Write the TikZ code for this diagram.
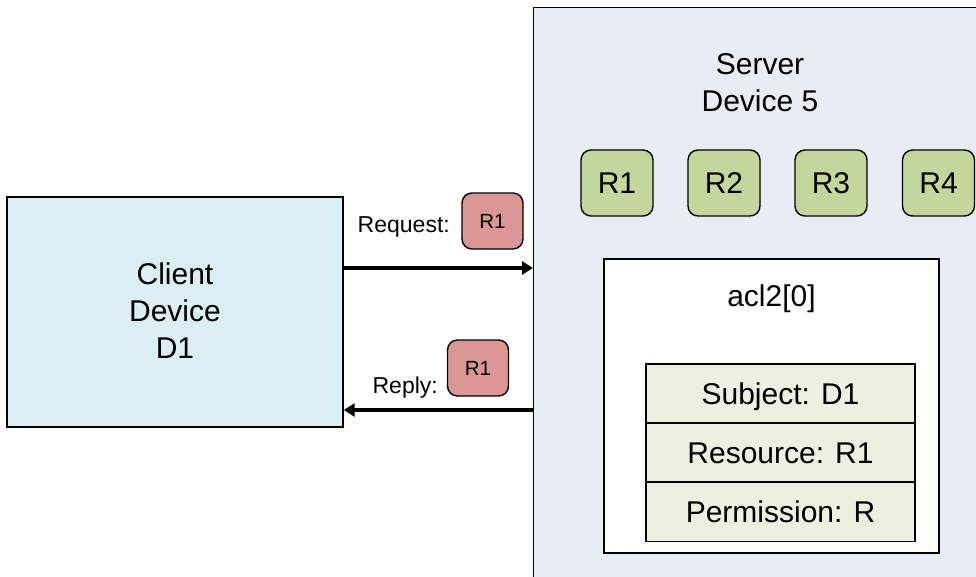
\documentclass[tikz,border=0pt]{standalone}
\usepackage{fontspec}
\setmainfont{Liberation Sans}
\usetikzlibrary{arrows.meta}
\definecolor{clientfill}{HTML}{DBEEF4}
\definecolor{serverfill}{HTML}{E8ECF5}
\definecolor{resfill}{HTML}{C3D69B}
\definecolor{rowfill}{HTML}{EBF1DE}
\definecolor{msgfill}{HTML}{D99694}
\tikzset{
  box/.style={draw=black, line width=1.4pt, inner sep=0pt},
  bigtxt/.style={font=\fontsize{30}{37}\selectfont},
  captext/.style={text height=21.5pt, text depth=0pt},
  resbox/.style={box, fill=resfill, rounded corners=10pt, minimum width=72pt, minimum height=66pt, bigtxt, captext},
  rowbox/.style={box, fill=rowfill, minimum width=269pt, minimum height=59pt, bigtxt, captext},
  msgbox/.style={box, fill=msgfill, rounded corners=10pt, minimum width=61pt, minimum height=56pt, font=\fontsize{20.5}{24}\selectfont, text height=14.7pt, text depth=0pt},
  lbl/.style={inner sep=0pt, font=\fontsize{23}{27}\selectfont},
  arr/.style={line width=3.2pt, -{Triangle[length=11pt,width=13pt]}}
}
\begin{document}
\begin{tikzpicture}[x=1pt,y=-1pt]
\useasboundingbox (0,0) rectangle (976,576);
\clip (0,0) rectangle (976,576);
% server
\node[box, fill=serverfill, anchor=north west, minimum width=470pt, minimum height=600pt] (server) at (533,7) {};
\node[bigtxt, align=center, inner sep=0pt] (servertitle) at (760,82.5) {Server\\Device 5};
% client
\node[box, fill=clientfill, minimum width=336pt, minimum height=230pt] (client) at (175,312) {};
\node[bigtxt, align=center, inner sep=0pt] (clienttitle) at (175,310.5) {Client\\Device\\D1};
% resources
\node[resbox] (r1) at (617,183) {R1};
\node[resbox] (r2) at (724,183) {R2};
\node[resbox] (r3) at (831,183) {R3};
\node[resbox] (r4) at (938.5,183) {R4};
% acl
\node[box, fill=white, minimum width=335pt, minimum height=294pt] (acl) at (771.5,406) {};
\node[bigtxt, captext, inner sep=0pt] (acltitle) at (771.5,295.5) {acl2[0]};
\node[rowbox] (subj) at (780.5,393.5) {Subject: D1};
\node[rowbox] (resrc) at (780.5,452.5) {Resource: R1};
\node[rowbox] (perm) at (780.5,512) {Permission: R};
% messages
\coordinate (reqy) at (0,268);
\coordinate (repy) at (0,410);
\draw[arr] (client.east |- reqy) -- (server.west |- reqy);
\draw[arr] (server.west |- repy) -- (client.east |- repy);
\node[msgbox] (reqmsg) at (492.5,221) {R1};
\node[lbl, anchor=base east] (reqlbl) at (450,232) {Request:};
\node[msgbox] (repmsg) at (478,368) {R1};
\node[lbl, anchor=base east] (replbl) at (438,393) {Reply:};
\end{tikzpicture}
\end{document}
